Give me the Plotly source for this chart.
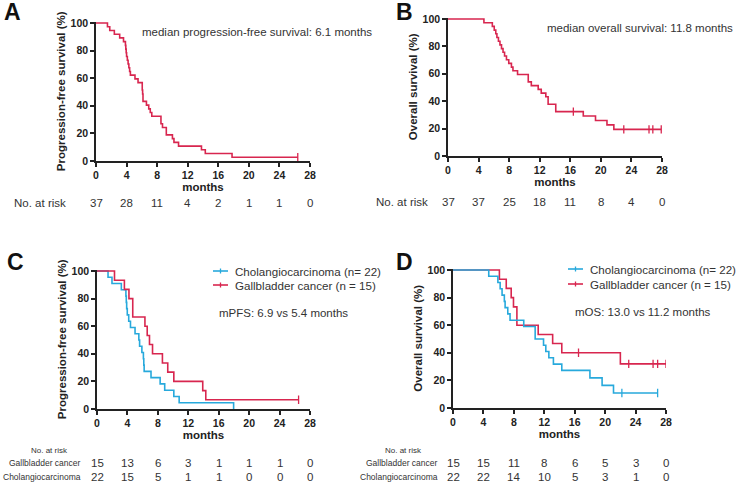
import plotly.graph_objects as go

# ---------------- data ----------------
months_ticks = [0, 4, 8, 12, 16, 20, 24, 28]
surv_ticks = [0, 20, 40, 60, 80, 100]

# Panel A: progression-free survival (all patients)
A_time = [0, 1.5, 1.8, 2.4, 3.1, 3.6, 3.85, 3.9, 3.95, 4.0, 4.1, 4.2, 4.3, 4.4, 4.5, 5.1, 5.5,
          6.05, 6.1, 6.15, 6.6, 6.9, 7.1, 7.3, 8.5, 8.7, 9.2, 10.0, 10.2, 10.8, 13.8, 14.3, 17.8]
A_surv = [100, 97.3, 94.6, 91.9, 89.2, 86.5, 83.8, 81.1, 78.4, 75.7, 73.0, 70.3, 67.6, 64.9, 62.2,
          59.5, 56.8, 51.4, 48.6, 43.2, 40.5, 37.8, 35.1, 32.4, 27.0, 24.3, 18.9, 16.2, 13.5, 10.8,
          8.1, 5.4, 2.7]
A_end = 26.4
A_censor = [26.4]
A_risk = [37, 28, 11, 4, 2, 1, 1, 0]

# Panel B: overall survival (all patients)
B_time = [0, 4.7, 5.8, 6.05, 6.25, 6.4, 6.6, 6.8, 7.0, 7.2, 7.4, 7.65, 7.95, 8.3, 8.5, 9.1,
          10.5, 10.9, 11.8, 12.2, 12.8, 13.1, 14.1, 17.7, 19.3, 20.8, 21.7]
B_surv = [100, 97.3, 94.6, 91.9, 89.2, 86.5, 83.8, 81.1, 78.4, 75.7, 73.0, 70.3, 67.6, 64.9,
          62.2, 59.5, 54.1, 51.4, 48.6, 45.9, 43.2, 37.8, 32.4, 29.2, 25.9, 22.7, 19.4]
B_end = 27.9
B_censor = [16.4, 23.0, 26.3, 26.8, 27.9]
B_risk = [37, 37, 25, 18, 11, 8, 4, 0]

# Panel C: PFS by tumour type
C_chol_time = [0, 1.45, 1.97, 3.2, 3.8, 3.85, 3.9, 3.98, 4.17, 4.4, 5.0, 5.5, 5.6, 5.9, 6.1,
               6.15, 6.2, 7.1, 8.3, 8.9, 10.1, 10.8, 17.96]
C_chol_surv = [100, 95.5, 90.9, 86.4, 81.8, 77.3, 72.7, 68.2, 63.6, 59.1, 54.5, 50.0, 45.5,
               40.9, 36.4, 31.8, 27.3, 22.7, 18.2, 13.6, 9.1, 4.5, 0]
C_chol_end = 17.96
C_chol_censor = []
C_gb_time = [0, 2.3, 3.6, 4.2, 4.7, 6.3, 6.6, 6.9, 7.3, 8.6, 9.3, 10.1, 13.9, 14.3]
C_gb_surv = [100, 93.3, 86.7, 80.0, 66.7, 60.0, 53.3, 46.7, 40.0, 33.3, 26.7, 20.0, 13.3, 6.7]
C_gb_end = 26.5
C_gb_censor = [26.5]
C_risk_gb = [15, 13, 6, 3, 1, 1, 1, 0]
C_risk_chol = [22, 15, 5, 1, 1, 0, 0, 0]

# Panel D: OS by tumour type
D_chol_time = [0, 4.7, 5.9, 6.2, 6.45, 6.75, 6.85, 7.2, 7.5, 9.3, 10.8, 11.9, 12.2, 12.6,
               13.2, 14.3, 18.0, 19.6, 21.1]
D_chol_surv = [100, 95.5, 90.9, 86.4, 81.8, 77.3, 72.7, 68.2, 63.6, 59.1, 50.0, 45.5, 40.9,
               36.4, 31.8, 27.3, 21.8, 16.4, 10.9]
D_chol_end = 26.9
D_chol_censor = [22.2, 26.9]
D_gb_time = [0, 6.1, 7.0, 7.65, 7.95, 8.4, 11.2, 13.1, 14.3, 22.0]
D_gb_surv = [100, 93.3, 86.7, 80.0, 73.3, 60.0, 53.3, 46.7, 40.0, 32.0]
D_gb_end = 28.0
D_gb_censor = [16.5, 23.1, 26.3, 26.9, 28.0]
D_risk_gb = [15, 15, 11, 8, 6, 5, 3, 0]
D_risk_chol = [22, 22, 14, 10, 5, 3, 1, 0]

# ---------------- style ----------------
W, H = 740, 486
RED = "#d8264f"
BLUE = "#27a9dc"
AX = "#222222"
TXT = "#333333"
FONT = "Arial, Liberation Sans, sans-serif"
YMAX = 101


def px(x):
    return x / W


def py(y):
    return 1 - y / H


def level_at(times, levels, t):
    v = levels[0]
    for tt, lv in zip(times, levels):
        if tt <= t:
            v = lv
    return v


# panel pixel geometry: x at 0, x at 28, y at 0, y at 100
geom = {
    "A": (96, 310, 161, 23),
    "B": (448, 662, 156, 19),
    "C": (97, 310, 409, 271),
    "D": (453, 666, 408, 270),
}
axes_ids = {"A": ("x", "y"), "B": ("x2", "y2"), "C": ("x3", "y3"), "D": ("x4", "y4")}
ytitles = {"A": "Progression-free survival (%)", "B": "Overall survival (%)",
           "C": "Progression-free survival (%)", "D": "Overall survival (%)"}

fig = go.Figure()


def add_curve(panel, times, surv, end, censor, color):
    xa, ya = axes_ids[panel]
    xs = list(times) + [end]
    ys = list(surv) + [surv[-1]]
    fig.add_trace(go.Scatter(x=xs, y=ys, mode="lines", line=dict(color=color, width=1.6, shape="hv"),
                             xaxis=xa, yaxis=ya, showlegend=False, hoverinfo="skip"))
    if censor:
        cy = [level_at(times, surv, c) for c in censor]
        fig.add_trace(go.Scatter(x=censor, y=cy, mode="markers",
                                 marker=dict(symbol="line-ns", size=6, color=color,
                                             line=dict(color=color, width=1.3)),
                                 xaxis=xa, yaxis=ya, showlegend=False, hoverinfo="skip"))


add_curve("A", A_time, A_surv, A_end, A_censor, RED)
add_curve("B", B_time, B_surv, B_end, B_censor, RED)
add_curve("C", C_chol_time, C_chol_surv, C_chol_end, C_chol_censor, BLUE)
add_curve("C", C_gb_time, C_gb_surv, C_gb_end, C_gb_censor, RED)
add_curve("D", D_gb_time, D_gb_surv, D_gb_end, D_gb_censor, RED)
add_curve("D", D_chol_time, D_chol_surv, D_chol_end, D_chol_censor, BLUE)

layout = dict(width=W, height=H, margin=dict(l=0, r=0, t=0, b=0, autoexpand=False),
              paper_bgcolor="white", plot_bgcolor="white",
              font=dict(family=FONT, color=TXT), showlegend=False)

for i, p in enumerate(["A", "B", "C", "D"]):
    x0, x28, y0, y100 = geom[p]
    ytop = y0 - (y0 - y100) * YMAX / 100
    sfx = "" if i == 0 else str(i + 1)
    layout["xaxis" + sfx] = dict(
        domain=[px(x0), px(x28)], range=[0, 28], anchor="y" + sfx, automargin=False,
        tickvals=months_ticks, ticks="outside", ticklen=4, tickwidth=1.5, tickcolor=AX,
        showline=True, linecolor=AX, linewidth=1.5, showgrid=False, zeroline=False,
        tickfont=dict(size=10.5, color=AX, weight="bold", family=FONT),
        title=dict(text="months", font=dict(size=11.5, color=AX, weight="bold", family=FONT),
                   standoff=2))
    layout["yaxis" + sfx] = dict(
        domain=[py(y0), py(ytop)], range=[0, YMAX], anchor="x" + sfx, automargin=False,
        tickvals=surv_ticks, ticks="outside", ticklen=4, tickwidth=1.5, tickcolor=AX,
        showline=True, linecolor=AX, linewidth=1.5, showgrid=False, zeroline=False,
        tickfont=dict(size=10.5, color=AX, weight="bold", family=FONT),
        title=dict(text=ytitles[p], font=dict(size=11.5, color=AX, weight="bold", family=FONT),
                   standoff=3))

fig.update_layout(**layout)

ann = []


def text(x, y, s, size=11.5, xanchor="left", weight="normal", xref="paper", color=TXT):
    ann.append(dict(x=x if xref != "paper" else px(x), y=py(y), xref=xref, yref="paper",
                    text=s, showarrow=False, xanchor=xanchor, yanchor="middle",
                    font=dict(size=size, color=color, family=FONT, weight=weight)))


# panel letters
for letter, (lx, ly) in {"A": (12, 12), "B": (404, 12), "C": (15, 262), "D": (405, 262)}.items():
    text(lx, ly, letter, size=23, xanchor="center", weight="bold", color="#111111")

# in-plot annotations
text(140, 32, "median progression-free survival: 6.1 months")
text(545, 28, "median overall survival: 11.8 months")
text(217, 313, "mPFS: 6.9 vs 5.4 months")
text(573, 312, "mOS: 13.0 vs 11.2 months")

# manual legends (C and D)
shapes = []


def legend_item(lx0, lx1, ly, color, label):
    shapes.append(dict(type="line", xref="paper", yref="paper", x0=px(lx0), x1=px(lx1),
                       y0=py(ly), y1=py(ly), line=dict(color=color, width=1.6)))
    mid = (lx0 + lx1) / 2
    shapes.append(dict(type="line", xref="paper", yref="paper", x0=px(mid), x1=px(mid),
                       y0=py(ly - 2.5), y1=py(ly + 2.5), line=dict(color=color, width=1.3)))
    text(lx1 + 5, ly, label, size=11.6)


legend_item(213, 228, 271, BLUE, "Cholangiocarcinoma (n= 22)")
legend_item(213, 228, 285, RED, "Gallbladder cancer (n = 15)")
legend_item(568, 583, 269, BLUE, "Cholangiocarcinoma (n= 22)")
legend_item(568, 583, 284, RED, "Gallbladder cancer (n = 15)")

# numbers at risk
text(12, 203, "No. at risk", size=11.5)
for t, n in zip(months_ticks, A_risk):
    text(t, 203, str(n), size=11.5, xanchor="center", xref="x")
text(374, 202, "No. at risk", size=11.5)
for t, n in zip(months_ticks, B_risk):
    text(t, 202, str(n), size=11.5, xanchor="center", xref="x2")

text(29, 450, "No. at risk", size=8)
text(83, 463, "Gallbladder cancer", size=8.5, xanchor="right")
text(83, 477, "Cholangiocarcinoma", size=8.5, xanchor="right")
for t, n in zip(months_ticks, C_risk_gb):
    text(t, 463, str(n), size=11.5, xanchor="center", xref="x3")
for t, n in zip(months_ticks, C_risk_chol):
    text(t, 477, str(n), size=11.5, xanchor="center", xref="x3")

text(383, 450, "No. at risk", size=8)
text(440, 463, "Gallbladder cancer", size=8.5, xanchor="right")
text(440, 477, "Cholangiocarcinoma", size=8.5, xanchor="right")
for t, n in zip(months_ticks, D_risk_gb):
    text(t, 463, str(n), size=11.5, xanchor="center", xref="x4")
for t, n in zip(months_ticks, D_risk_chol):
    text(t, 477, str(n), size=11.5, xanchor="center", xref="x4")

fig.update_layout(annotations=ann, shapes=shapes)
fig.write_html("out.html", config={"displayModeBar": False},
               post_script="document.body.style.margin='0';document.body.style.overflow='hidden';")
